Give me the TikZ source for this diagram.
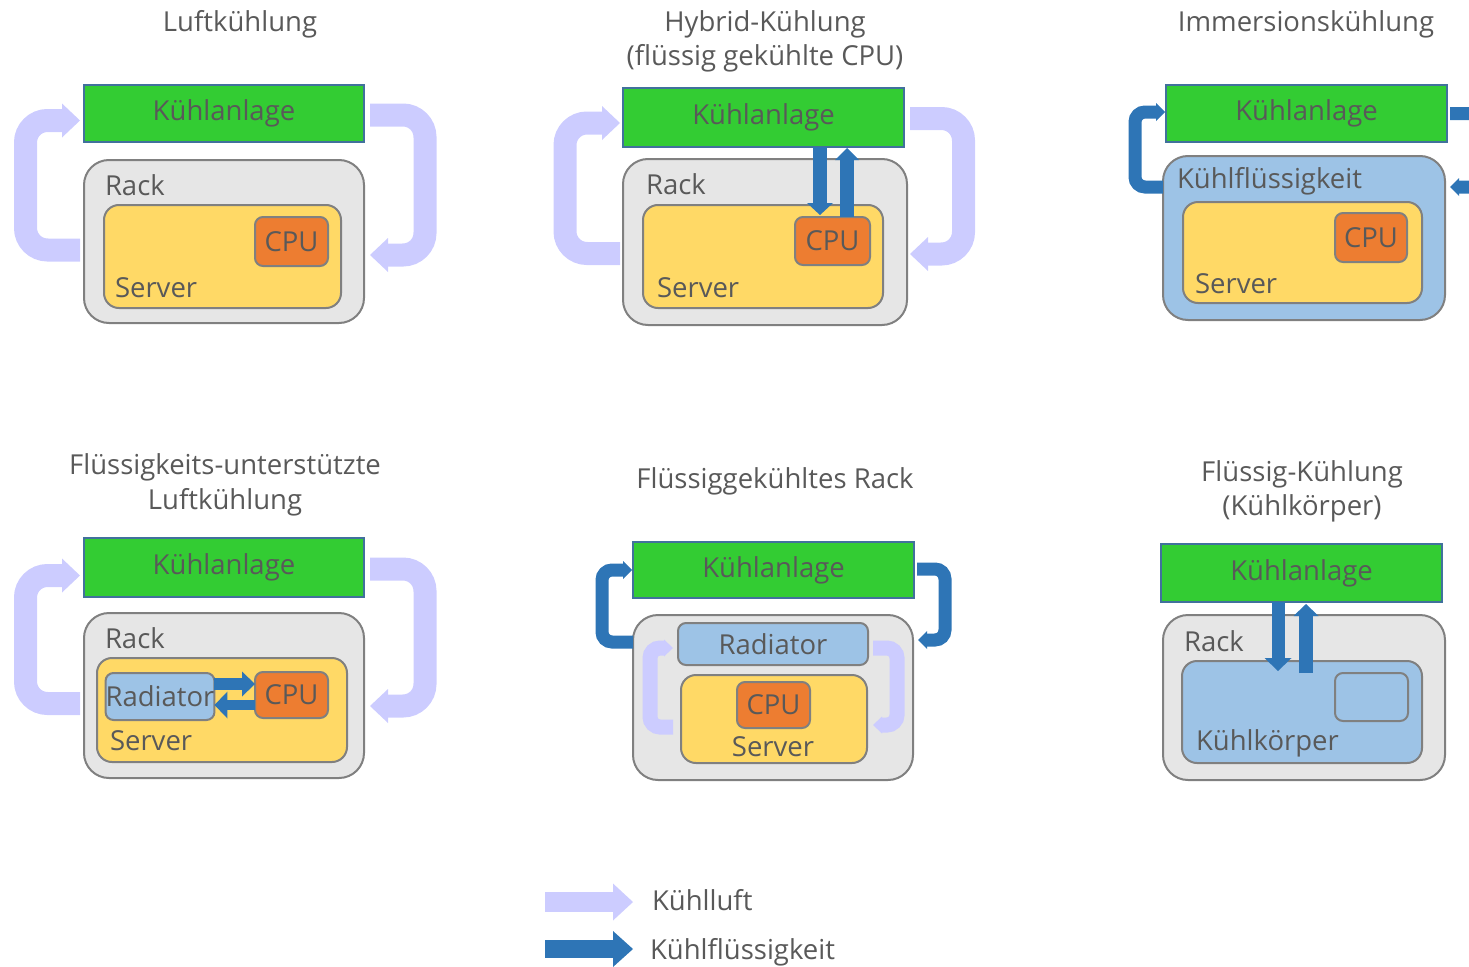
\documentclass[tikz,border=0pt]{standalone}
\usepackage{fontspec}
\setmainfont{Open Sans}
\usetikzlibrary{arrows.meta,calc}
\definecolor{kgreen}{HTML}{33CC33}
\definecolor{kedge}{HTML}{41719C}
\definecolor{rgray}{HTML}{E6E6E6}
\definecolor{bgray}{HTML}{808080}
\definecolor{syellow}{HTML}{FFD966}
\definecolor{corange}{HTML}{ED7D31}
\definecolor{lblue}{HTML}{9DC3E6}
\definecolor{liq}{HTML}{2E75B6}
\definecolor{aircol}{HTML}{CCCCFF}
\definecolor{tgray}{HTML}{595959}
\newcommand\myfont{\fontsize{27.5}{33}\selectfont}
\begin{document}
\begin{tikzpicture}[x=1pt,y=-1pt,
 every node/.style={text=tgray,font=\myfont,inner sep=0pt,outer sep=0pt},
 kbox/.style={fill=kgreen,draw=kedge,line width=1.5pt},
 rackbox/.style={fill=rgray,draw=bgray,line width=2pt,rounded corners=25pt},
 srvbox/.style={fill=syellow,draw=bgray,line width=2pt,rounded corners=15pt},
 cpubox/.style={fill=corange,draw=bgray,line width=2pt,rounded corners=8pt},
 bluebox/.style={fill=lblue,draw=bgray,line width=2pt,rounded corners=#1},
 bluebox/.default=8pt,
 airflow/.style={draw=aircol,line width=23pt,rounded corners=22pt,-{Triangle[length=18pt,width=34pt,line width'=0pt]}},
 airsmall/.style={draw=aircol,line width=15pt,rounded corners=10pt,-{Triangle[length=9pt,width=17pt,line width'=0pt]}},
 liqflow/.style={draw=liq,line width=14pt,-{Triangle[length=12pt,width=26pt,line width'=0pt]}},
 liqloop/.style={draw=liq,line width=13pt,rounded corners=10pt,-{Triangle[length=9pt,width=18pt,line width'=0pt]}},
]
\path[use as bounding box,clip] (0,0) rectangle (1469,966);

% ---------- titles
\node (t1) at (240,24) {Luftkühlung};
\node (t2a) at (765,24) {Hybrid-Kühlung};
\node (t2b) at (765,58) {(flüssig gekühlte CPU)};
\node (t3) at (1306,24) {Immersionskühlung};
\node (t4a) at (225,467) {Flüssigkeits-unterstützte};
\node (t4b) at (225,502) {Luftkühlung};
\node (t5) at (775,481) {Flüssiggekühltes Rack};
\node (t6a) at (1302,474) {Flüssig-Kühlung};
\node (t6b) at (1302,508) {(Kühlkörper)};

% ---------- panel 1
\node[kbox,minimum width=280pt,minimum height=57pt] (k1) at (224,113.5) {Kühlanlage};
\node[rackbox,minimum width=280pt,minimum height=163pt] (r1) at (224,241.5) {};
\node[anchor=west] (r1t) at (105,185) {Rack};
\node[srvbox,minimum width=237pt,minimum height=103pt] (s1) at (222.5,256.5) {};
\node[anchor=west] (s1t) at (115,288) {Server};
\node[cpubox,minimum width=73pt,minimum height=49pt] (c1) at (291.5,241.5) {CPU};
\draw[airflow] ($(r1.west)+(-4,8.5)$) -- ++(-54.5,0) |- ($(k1.west)+(-4,7)$);
\draw[airflow] ($(k1.east)+(6,1.5)$) -- ++(55,0) |- ($(r1.east)+(6,13.5)$);

% ---------- panel 2
\node[kbox,minimum width=281pt,minimum height=59pt] (k2) at (763.5,117.5) {Kühlanlage};
\node[rackbox,minimum width=284pt,minimum height=166pt] (r2) at (765,242) {};
\node[anchor=west] (r2t) at (646,184) {Rack};
\node[srvbox,minimum width=240pt,minimum height=103pt] (s2) at (763,256.5) {};
\node[anchor=west] (s2t) at (657,288) {Server};
\node[cpubox,minimum width=75pt,minimum height=48pt] (c2) at (832.5,241) {CPU};
\draw[airflow] ($(r2.west)+(-3,11.5)$) -- ++(-55,0) |- ($(k2.west)+(-3,5.5)$);
\draw[airflow] ($(k2.east)+(6,1)$) -- ++(53.5,0) |- ($(r2.east)+(3,12)$);
\draw[liqflow] ($(k2.south)+(56.5,0)$) -- ($(c2.north)+(-12.5,-2)$);
\draw[liqflow,-{Triangle[length=12pt,width=24pt,line width'=0pt]}] ($(c2.north)+(14.5,0)$) -- ($(k2.south)+(83.5,1)$);

% ---------- panel 3
\node[kbox,minimum width=281pt,minimum height=57pt] (k3) at (1306.5,113.5) {Kühlanlage};
\node[bluebox=25pt,minimum width=282pt,minimum height=164pt] (f3) at (1304,238) {};
\node[anchor=west] (f3t) at (1177,181) {Kühlflüssigkeit};
\node[srvbox,minimum width=239pt,minimum height=101pt] (s3) at (1302.5,252.5) {};
\node[anchor=west] (s3t) at (1195,284) {Server};
\node[cpubox,minimum width=72pt,minimum height=49pt] (c3) at (1371,237.5) {CPU};
\draw[liqloop] ($(f3.west)+(0,-51)$) -- ++(-28,0) |- ($(k3.west)+(-1,-1.5)$);
\draw[liqloop] ($(k3.east)+(3,0)$) -- ++(45,0) |- ($(f3.east)+(5,-51)$);

% ---------- panel 4
\node[kbox,minimum width=280pt,minimum height=59pt] (k4) at (224,567.5) {Kühlanlage};
\node[rackbox,minimum width=280pt,minimum height=165pt] (r4) at (224,695.5) {};
\node[anchor=west] (r4t) at (105,638) {Rack};
\node[srvbox,minimum width=250pt,minimum height=104pt] (s4) at (222,710) {};
\node[anchor=west] (s4t) at (110,741) {Server};
\node[bluebox,minimum width=104pt,minimum height=47pt] (rad4) at (160,696.5) {Radiator};
\node[cpubox,minimum width=73pt,minimum height=46pt] (c4) at (291.5,695) {CPU};
\draw[airflow] ($(r4.west)+(-4,8)$) -- ++(-54.5,0) |- ($(k4.west)+(-4,8)$);
\draw[airflow] ($(k4.east)+(6,1.5)$) -- ++(55,0) |- ($(r4.east)+(6,10.5)$);
\draw[draw=liq,line width=12pt,-{Triangle[length=13pt,width=25pt,line width'=0pt]}] ($(rad4.east)+(0,-12.5)$) -- ($(c4.west)+(0,-11)$);
\draw[draw=liq,line width=10pt,-{Triangle[length=13pt,width=27pt,line width'=0pt]}] ($(c4.west)+(0,10)$) -- ($(rad4.east)+(0,8.5)$);

% ---------- panel 5
\node[kbox,minimum width=281pt,minimum height=56pt] (k5) at (773.5,570) {Kühlanlage};
\node[rackbox,minimum width=280pt,minimum height=165pt] (r5) at (773,697.5) {};
\node[bluebox,minimum width=190pt,minimum height=42pt] (rad5) at (773,644) {Radiator};
\node[srvbox,minimum width=186pt,minimum height=88pt] (s5) at (774,719) {};
\node (s5t) at (773,747) {Server};
\node[cpubox,minimum width=73pt,minimum height=46pt] (c5) at (773.5,705) {CPU};
\draw[liqloop] ($(r5.west)+(0,-55.5)$) -- ++(-31,0) |- ($(k5.west)+(-1,0)$);
\draw[liqloop] ($(k5.east)+(3,-1)$) -- ++(28,0) |- ($(r5.east)+(5,-57.5)$);
\draw[airsmall] ($(s5.west)+(-8,8)$) -- ++(-23,0) |- ($(rad5.west)+(-5,4)$);
\draw[airsmall] ($(rad5.east)+(5,4)$) -- ++(24,0) |- ($(s5.east)+(6,6)$);

% ---------- panel 6
\node[kbox,minimum width=281pt,minimum height=58pt] (k6) at (1301.5,573) {Kühlanlage};
\node[rackbox,minimum width=282pt,minimum height=165pt] (r6) at (1304,697.5) {};
\node[anchor=west] (r6t) at (1184,641) {Rack};
\node[bluebox=15pt,minimum width=240pt,minimum height=102pt] (kk6) at (1302,712) {};
\node[anchor=west] (kk6t) at (1196,743) {Kühlkörper};
\node[bluebox,minimum width=73pt,minimum height=48pt] (e6) at (1371.5,697) {};
\draw[liqflow,line width=13pt,-{Triangle[length=13pt,width=27pt,line width'=0pt]}] ($(k6.south)+(-23.5,0)$) -- ($(kk6.north)+(-24,10)$);
\draw[liqflow,-{Triangle[length=12pt,width=25pt,line width'=0pt]}] ($(kk6.north)+(4,12)$) -- ($(k6.south)+(4.5,2)$);

% ---------- legend
\coordinate (la1) at (545,902);
\coordinate (la2) at (633,902);
\coordinate (lb1) at (545,949);
\coordinate (lb2) at (633,949);
\draw[draw=aircol,line width=20pt,-{Triangle[length=20pt,width=37pt,line width'=0pt]}] (la1) -- (la2);
\draw[draw=liq,line width=18pt,-{Triangle[length=20pt,width=36pt,line width'=0pt]}] (lb1) -- (lb2);
\node[anchor=west] (lt1) at (652,900) {Kühlluft};
\node[anchor=west] (lt2) at (650,952) {Kühlflüssigkeit};
\end{tikzpicture}
\end{document}
